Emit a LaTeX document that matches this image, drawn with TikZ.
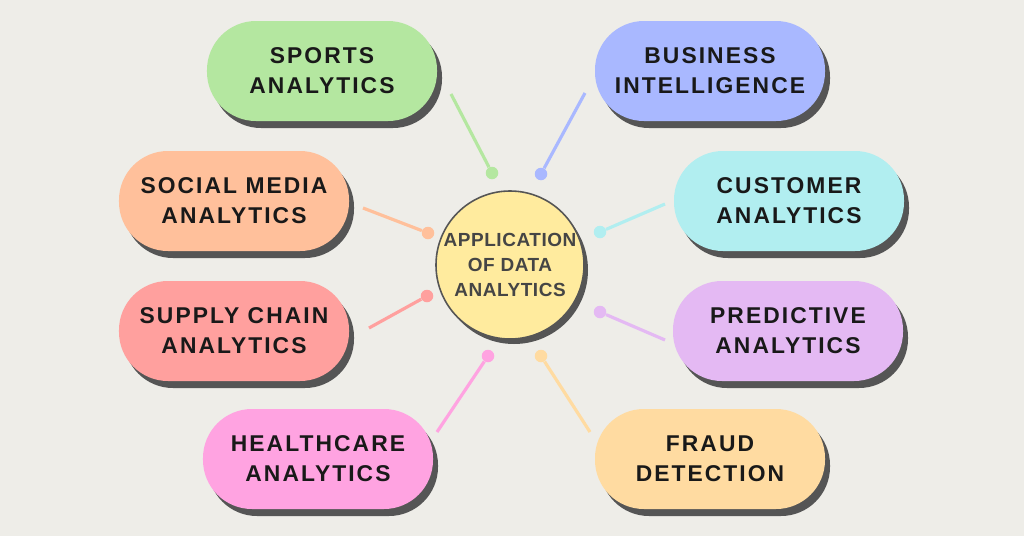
\documentclass[tikz,border=0pt]{standalone}
\usepackage{fontspec}
\setmainfont{Liberation Sans}
\newfontfamily\pillfont{Liberation Sans}[LetterSpace=9]
\newfontfamily\hubfont{Liberation Sans}[LetterSpace=3]
\usepackage{xcolor}
\usepackage{tikz}
\usetikzlibrary{shadows}
\definecolor{paper}{HTML}{EEEDE8}
\definecolor{shadowgray}{HTML}{555555}
\definecolor{hubtext}{HTML}{454545}
\definecolor{hubyellow}{HTML}{FFEB9E}
\definecolor{sportsgreen}{HTML}{B4E7A0}
\definecolor{bizblue}{HTML}{A9B8FF}
\definecolor{socialorange}{HTML}{FFC09B}
\definecolor{custcyan}{HTML}{B1EEF0}
\definecolor{supplyred}{HTML}{FFA09E}
\definecolor{predviolet}{HTML}{E4B9F3}
\definecolor{healthpink}{HTML}{FFA3E1}
\definecolor{fraudpeach}{HTML}{FFDBA1}

\begin{document}
\begin{tikzpicture}[
  x=0.2mm, y=-0.2mm,
  pill/.style={
    fill=#1, rounded corners=0.98cm, align=center,
    minimum width=4.6cm, minimum height=2cm, inner sep=0pt,
    font=\pillfont\fontsize{13}{17}\selectfont\bfseries, text=black!90,
    drop shadow={shadow xshift=0.1cm, shadow yshift=-0.14cm,
                 fill=shadowgray, opacity=1}
  },
  hub/.style={
    circle, fill=hubyellow, draw=shadowgray, line width=0.9pt,
    minimum size=2.96cm, inner sep=0pt, align=center,
    font=\hubfont\fontsize{10.8}{14}\selectfont\bfseries, text=hubtext,
    drop shadow={shadow xshift=0.08cm, shadow yshift=-0.1cm,
                 fill=shadowgray, opacity=1}
  },
  dot/.style={circle, fill=#1, inner sep=0pt, minimum size=0.25cm},
  spoke/.style={draw=#1, line width=1.8pt}
]

%% fond
\fill[paper] (0,0) rectangle (1024,536);

%% bouts libres des rayons
\coordinate (e1) at (451,94);
\coordinate (e2) at (585,93);
\coordinate (e3) at (363,208);
\coordinate (e4) at (665,204);
\coordinate (e5) at (369,328);
\coordinate (e6) at (665,340);
\coordinate (e7) at (437,432);
\coordinate (e8) at (590,432);

%% points autour du centre
\node[dot=sportsgreen]  (d1) at (492,173) {};
\node[dot=bizblue]      (d2) at (541,174) {};
\node[dot=socialorange] (d3) at (428,233) {};
\node[dot=custcyan]     (d4) at (600,232) {};
\node[dot=supplyred]    (d5) at (427,296) {};
\node[dot=predviolet]   (d6) at (600,312) {};
\node[dot=healthpink]   (d7) at (488,356) {};
\node[dot=fraudpeach]   (d8) at (541,356) {};

\draw[spoke=sportsgreen]  (e1) -- (d1);
\draw[spoke=bizblue]      (e2) -- (d2);
\draw[spoke=socialorange] (e3) -- (d3);
\draw[spoke=custcyan]     (e4) -- (d4);
\draw[spoke=supplyred]    (e5) -- (d5);
\draw[spoke=predviolet]   (e6) -- (d6);
\draw[spoke=healthpink]   (e7) -- (d7);
\draw[spoke=fraudpeach]   (e8) -- (d8);

%% centre
\node[hub] (hub) at (510,265) {APPLICATION\\OF DATA\\ANALYTICS};

%% pastilles
\node[pill=sportsgreen]  (sports)  at (322,71)  {SPORTS\\ANALYTICS};
\node[pill=bizblue]      (biz)     at (710,71)  {BUSINESS\\INTELLIGENCE};
\node[pill=socialorange] (social)  at (234,201) {SOCIAL MEDIA\\ANALYTICS};
\node[pill=custcyan]     (cust)    at (789,201) {CUSTOMER\\ANALYTICS};
\node[pill=supplyred]    (supply)  at (234,331) {SUPPLY CHAIN\\ANALYTICS};
\node[pill=predviolet]   (pred)    at (788,331) {PREDICTIVE\\ANALYTICS};
\node[pill=healthpink]   (health)  at (318,459) {HEALTHCARE\\ANALYTICS};
\node[pill=fraudpeach]   (fraud)   at (710,459) {FRAUD\\DETECTION};

\end{tikzpicture}
\end{document}
